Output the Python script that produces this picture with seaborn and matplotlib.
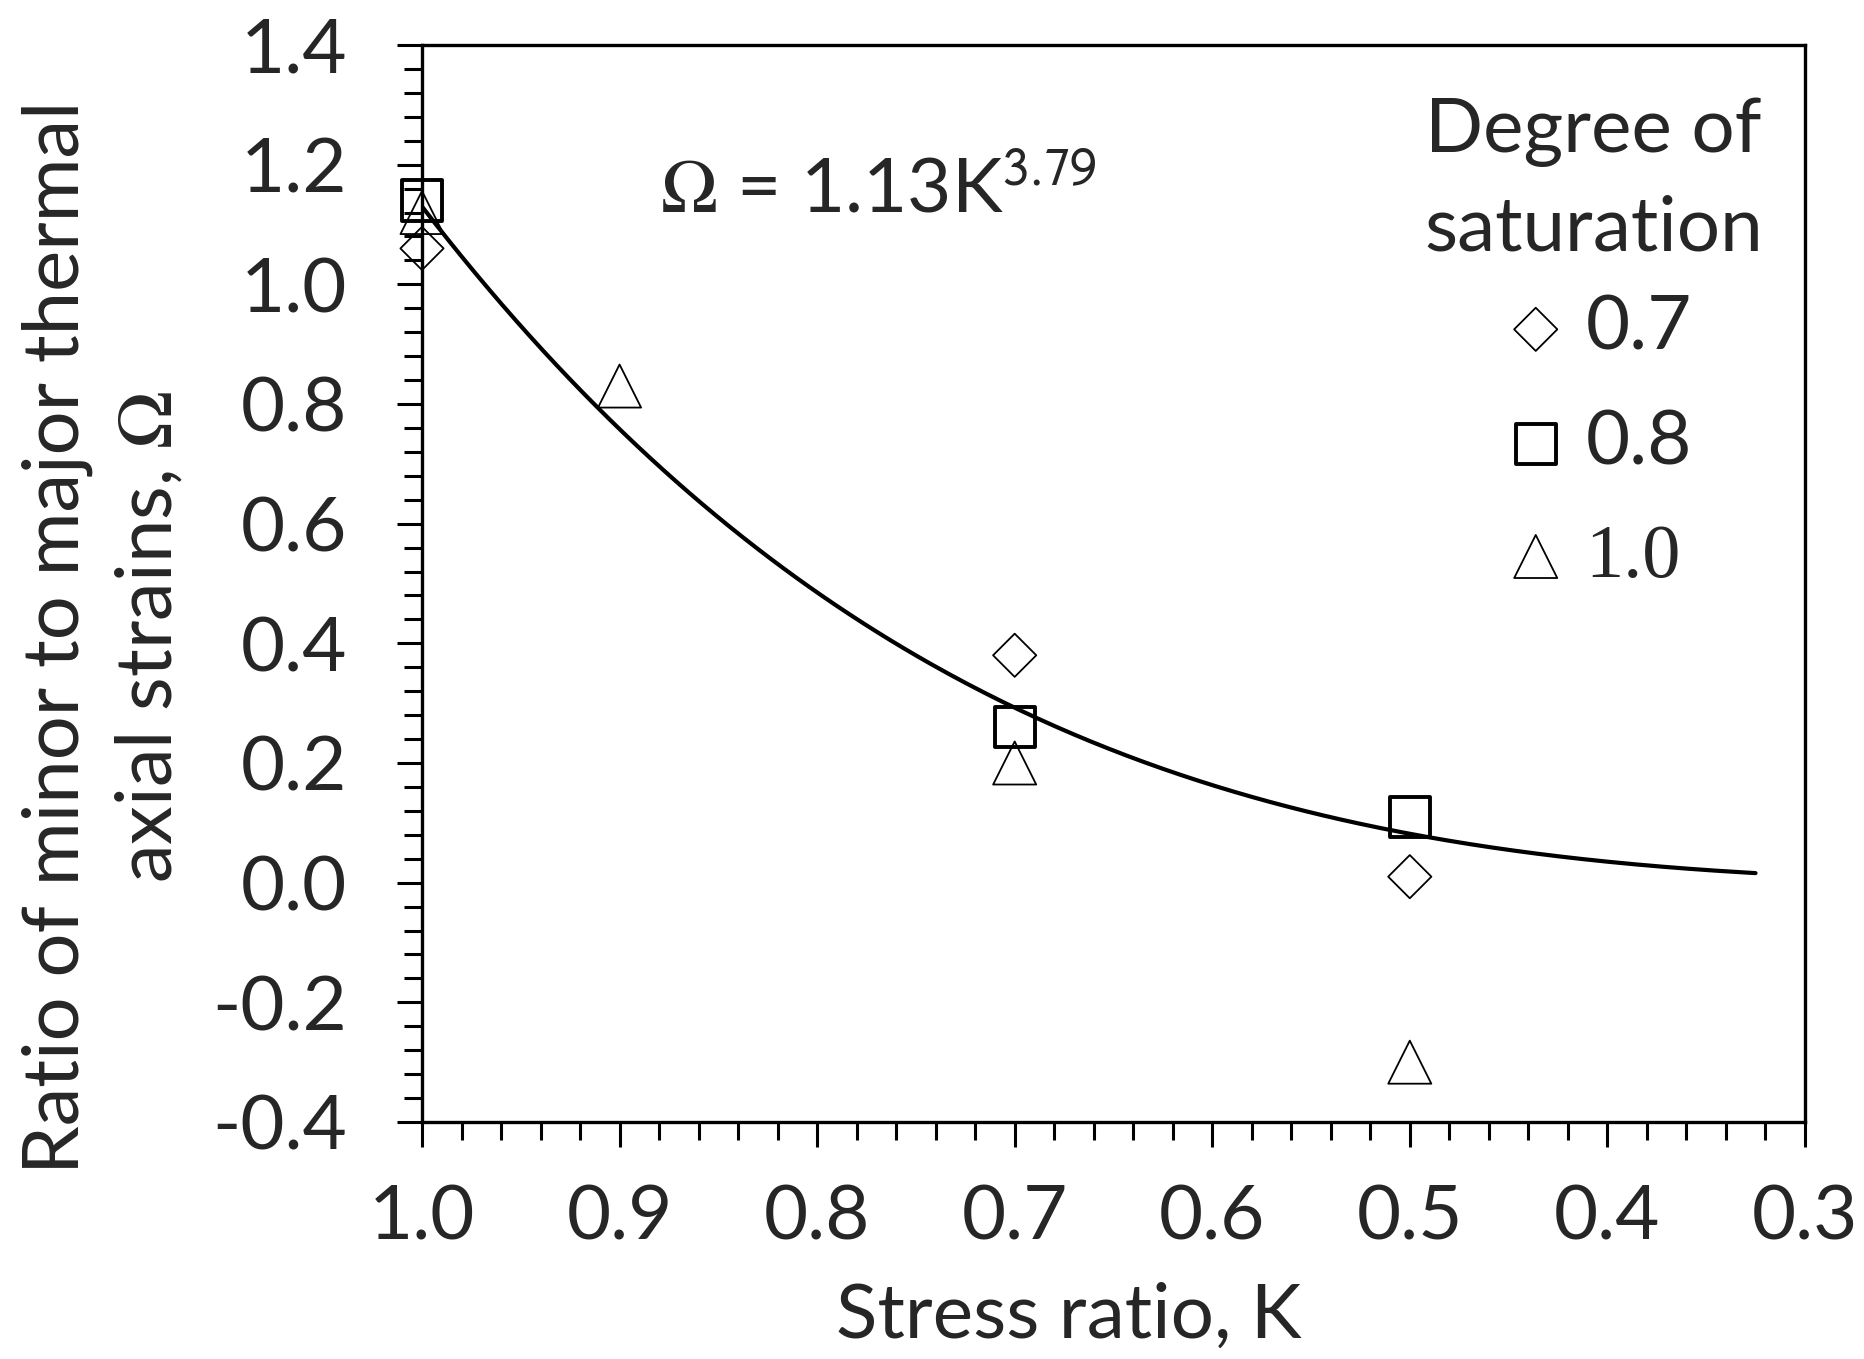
import numpy as np
import pandas as pd
import matplotlib
matplotlib.use("Agg")
import matplotlib.pyplot as plt
import seaborn as sns
from matplotlib.ticker import MultipleLocator, FormatStrFormatter

# ---- data ----
K_sr07 = [1.0, 0.7, 0.5]
Omega_sr07 = [1.06, 0.38, 0.01]
K_sr08 = [1.0, 0.7, 0.5]
Omega_sr08 = [1.14, 0.26, 0.11]
K_sr10 = [1.0, 0.9, 0.7, 0.5]
Omega_sr10 = [1.12, 0.83, 0.20, -0.30]
series_labels = ["0.7", "0.8", "1.0"]
legend_title = "Degree of\nsaturation"
fit_a = 1.13
fit_b = 3.79
fit_K_start, fit_K_end = 1.0, 0.325

sns.set_theme(style="white")
plt.rcParams["font.family"] = ["Lato", "DejaVu Sans"]
plt.rcParams["mathtext.fontset"] = "stix"

FS = 55

fig = plt.figure(figsize=(18.64, 13.59), dpi=100)
ax = fig.add_axes([0.2264, 0.1744, 0.9683 - 0.2264, 0.9669 - 0.1744])

K_fit = np.linspace(fit_K_start, fit_K_end, 300)
Om_fit = fit_a * K_fit ** fit_b
sns.lineplot(x=K_fit, y=Om_fit, color="black", lw=3.0, ax=ax, sort=False)

sns.scatterplot(x=K_sr07, y=Omega_sr07, marker="D", s=22**2, facecolor="none",
                edgecolor="black", linewidth=1.3, ax=ax, label=series_labels[0],
                zorder=3, clip_on=False)
sns.scatterplot(x=K_sr08, y=Omega_sr08, marker="s", s=29**2, facecolor="none",
                edgecolor="black", linewidth=2.8, ax=ax, label=series_labels[1],
                zorder=3, clip_on=False)
sns.scatterplot(x=K_sr10, y=Omega_sr10, marker="^", s=31**2, facecolor="none",
                edgecolor="black", linewidth=1.3, ax=ax, label=series_labels[2],
                zorder=3, clip_on=False)

ax.set_xlim(1.0, 0.3)
ax.set_ylim(-0.4, 1.4)
ax.xaxis.set_major_locator(MultipleLocator(0.1))
ax.xaxis.set_minor_locator(MultipleLocator(0.02))
ax.yaxis.set_major_locator(MultipleLocator(0.2))
ax.yaxis.set_minor_locator(MultipleLocator(0.04))
ax.xaxis.set_major_formatter(FormatStrFormatter("%.1f"))
ax.yaxis.set_major_formatter(FormatStrFormatter("%.1f"))

ax.tick_params(axis="both", which="both", direction="out", width=2.2, color="black",
               bottom=True, left=True, top=False, right=False)
ax.tick_params(axis="both", which="major", length=18, labelsize=FS)
ax.tick_params(axis="y", which="major", pad=36)
ax.tick_params(axis="x", which="major", pad=26)
ax.tick_params(axis="both", which="minor", length=13)
for sp in ax.spines.values():
    sp.set_color("black")
    sp.set_linewidth(2.4)

ax.set_xlabel("Stress ratio, K", fontsize=FS)
ax.xaxis.set_label_coords(0.468, -0.148)
ax.set_ylabel("Ratio of minor to major thermal\naxial strains, $\\Omega$", fontsize=56,
              linespacing=1.4)
ax.yaxis.set_label_coords(-0.17, 0.45)

ax.text(0.172, 0.845, "$\\Omega$ = 1.13K$^{\\mathsf{3.79}}$", transform=ax.transAxes,
        fontsize=FS, ha="left", va="baseline")

ax.text(0.847, 0.874, legend_title, transform=ax.transAxes, fontsize=FS,
        ha="center", va="center", multialignment="center", linespacing=1.48)

leg = ax.legend(loc="upper center", bbox_to_anchor=(0.848, 0.819), frameon=False,
                fontsize=FS, handletextpad=0.15, labelspacing=0.6,
                handlelength=1.0, borderpad=0.2)
leg.get_texts()[2].set_family(["Liberation Serif", "DejaVu Serif"])

fig.savefig("out.png", dpi=100)
